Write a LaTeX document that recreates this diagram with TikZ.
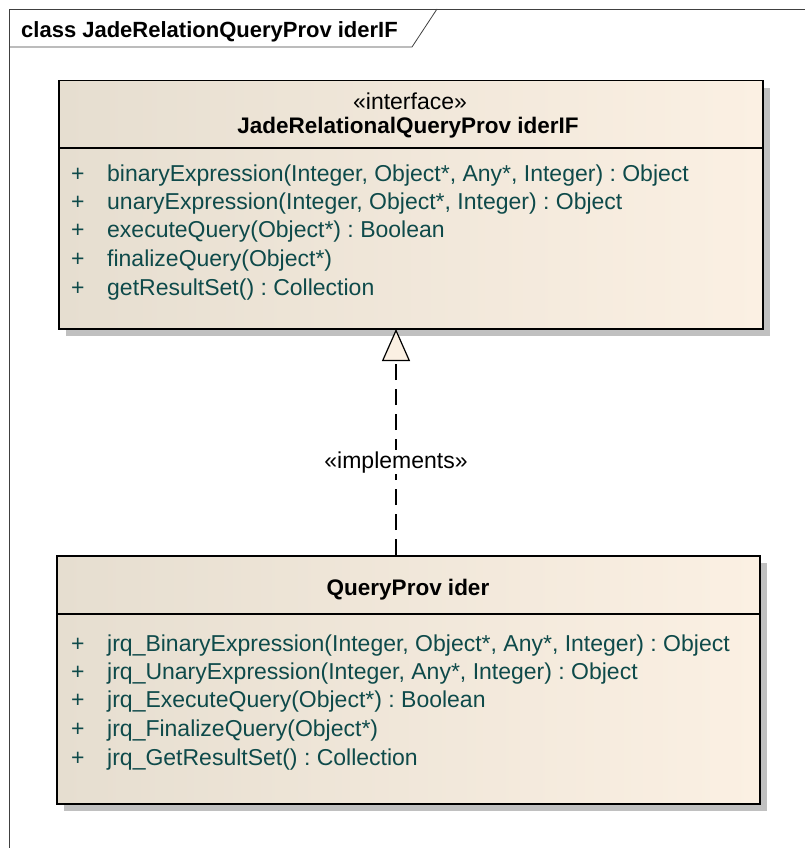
\documentclass[tikz,border=0pt]{standalone}
\usepackage{fontspec}
\setmainfont{Liberation Sans}
\usetikzlibrary{arrows.meta,positioning,shadows}
\frenchspacing

\definecolor{classleft}{RGB}{230,222,208}
\definecolor{classright}{RGB}{251,240,227}
\definecolor{optext}{RGB}{14,74,74}
\definecolor{shadowgray}{RGB}{192,192,192}

\begin{document}
\begin{tikzpicture}[
        x=1pt, y=-1pt,
        classbox/.style={draw, line width=1.5pt, left color=classleft, right color=classright,
            drop shadow={shadow xshift=7pt, shadow yshift=-7pt, fill=shadowgray, opacity=1},
            inner sep=0pt, anchor=north west},
        optxt/.style={text=optext, anchor=base west, inner sep=0pt, font=\fontsize{23}{26}\selectfont},
        plain/.style={anchor=base, inner sep=0pt, font=\fontsize{23}{26}\selectfont},
        bold/.style={anchor=base, inner sep=0pt, font=\fontsize{22.5}{26}\selectfont\bfseries},
        realize/.style={dashed, dash pattern=on 16pt off 9pt, line width=1.2pt,
            -{Triangle[open, length=32pt, width=28pt, fill=classright, line width=1.2pt]}},
    ]
    \useasboundingbox (0,0) rectangle (805,848);
    % frame
    \draw[line width=0.8pt, black!75] (9,848) -- (9,9) -- (805,9);
    \draw[line width=0.8pt, black!75] (9,47) -- (412,47) -- (437,9);
    \node[anchor=base west, inner sep=0pt, font=\fontsize{22}{26}\selectfont\bfseries] (title) at (21,38) {class JadeRelationQueryProv iderIF};

    % interface
    \node[classbox, minimum width=704pt, minimum height=248pt] (iface) at (58,80) {};
    \draw[line width=1.5pt] (58,148) -- (762,148);
    \node[plain] (ifstereo) at (410,110) {«interface»};
    \node[bold] (ifname) at (408,133) {JadeRelationalQueryProv iderIF};
    \node[optxt] (ifp1) at (71,181) {+};
    \node[optxt] (ifop1) at (107,181) {binaryExpression(Integer, Object*, Any*, Integer) : Object};
    \node[optxt] (ifp2) at (71,209) {+};
    \node[optxt] (ifop2) at (107,209) {unaryExpression(Integer, Object*, Integer) : Object};
    \node[optxt] (ifp3) at (71,237) {+};
    \node[optxt] (ifop3) at (107,237) {executeQuery(Object*) : Boolean};
    \node[optxt] (ifp4) at (71,266) {+};
    \node[optxt] (ifop4) at (107,266) {finalizeQuery(Object*)};
    \node[optxt] (ifp5) at (71,295) {+};
    \node[optxt] (ifop5) at (107,295) {getResultSet() : Collection};

    % implementing class
    \node[classbox, minimum width=703pt, minimum height=248pt] (impl) at (56,555) {};
    \draw[line width=1.5pt] (56,614) -- (759,614);
    \node[bold] (implname) at (408,595) {QueryProv ider};
    \node[optxt] (imp1) at (71,651) {+};
    \node[optxt] (imop1) at (107,651) {jrq\_BinaryExpression(Integer, Object*, Any*, Integer) : Object};
    \node[optxt] (imp2) at (71,679) {+};
    \node[optxt] (imop2) at (107,679) {jrq\_UnaryExpression(Integer, Any*, Integer) : Object};
    \node[optxt] (imp3) at (71,707) {+};
    \node[optxt] (imop3) at (107,707) {jrq\_ExecuteQuery(Object*) : Boolean};
    \node[optxt] (imp4) at (71,736) {+};
    \node[optxt] (imop4) at (107,736) {jrq\_FinalizeQuery(Object*)};
    \node[optxt] (imp5) at (71,765) {+};
    \node[optxt] (imop5) at (107,765) {jrq\_GetResultSet() : Collection};

    % realization
    \coordinate (implTop) at (396,555);
    \coordinate (ifBottom) at (396,329);
    \draw[realize] (implTop) -- (ifBottom);
    \node[plain, fill=white, inner sep=1pt] (stereo) at (396,468) {«implements»};
\end{tikzpicture}
\end{document}
